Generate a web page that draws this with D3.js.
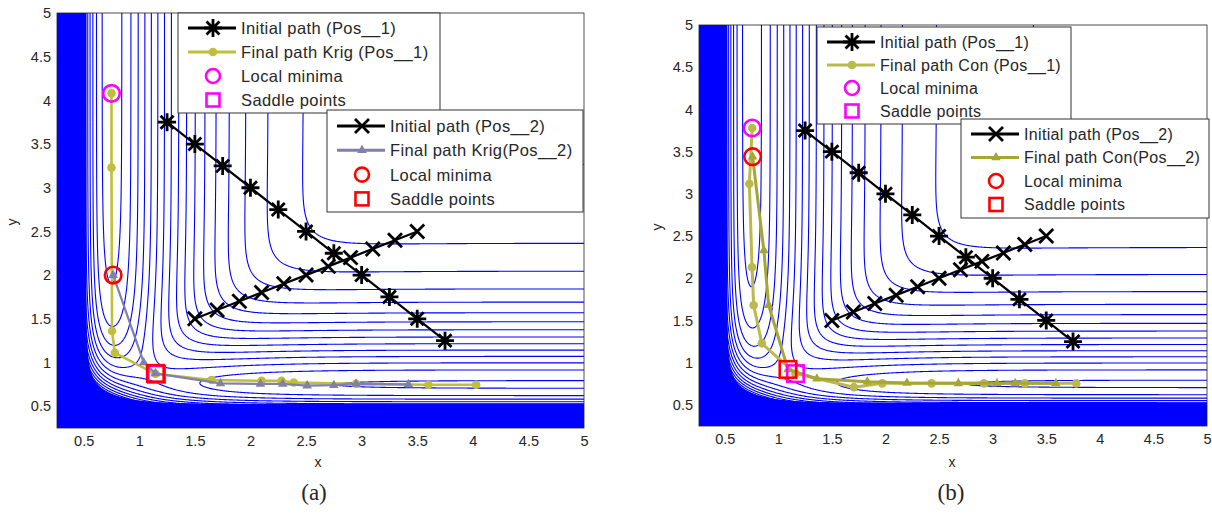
<!DOCTYPE html>
<meta charset="utf-8">
<style>
  body { margin: 0; background: #fff; }
  text { font-family: "Liberation Sans", Arial, sans-serif; fill: #262626; }
</style>
<body>
<script src="https://cdn.jsdelivr.net/npm/d3@7/dist/d3.min.js"></script>
<script>

// ticks, same for both panels
var xTicks = [0.5, 1, 1.5, 2, 2.5, 3, 3.5, 4, 4.5, 5];
var yTicks = [0.5, 1, 1.5, 2, 2.5, 3, 3.5, 4, 4.5, 5];

// straight initial paths (same in both panels)
var initPos1 = [[1.25,3.75],[1.5,3.5],[1.75,3.25],[2,3],[2.25,2.75],[2.5,2.5],[2.75,2.25],[3,2],[3.25,1.75],[3.5,1.5],[3.75,1.25]];
var initPos2 = [[1.5,1.5],[1.7,1.6],[1.9,1.7],[2.1,1.8],[2.3,1.9],[2.5,2.0],[2.7,2.1],[2.9,2.2],[3.1,2.3],[3.3,2.4],[3.5,2.5]];

// panel (a): Kriging final paths
var krigPos1 = [[0.75,4.08],[0.75,3.23],[0.755,1.36],[0.78,1.11],[1.145,0.87],[1.65,0.80],[2.1,0.79],[2.28,0.79],[2.39,0.77],[2.95,0.755],[3.6,0.745],[4.03,0.745]];
var krigPos2 = [[0.765,2.0],[1.04,1.0],[1.145,0.875],[1.73,0.76],[2.09,0.755],[2.29,0.755],[2.51,0.735],[2.75,0.74],[2.95,0.755],[3.42,0.75]];
var krigMin1 = [0.75, 4.08], krigSaddle1 = [1.155, 0.865];
var krigMin2 = [0.765, 2.0], krigSaddle2 = [1.145, 0.875];

// panel (b): Con final paths
var conPos1 = [[0.756,3.78],[0.73,3.12],[0.755,2.13],[0.77,1.68],[0.846,1.23],[1.16,0.87],[1.705,0.71],[1.97,0.755],[2.43,0.755],[2.92,0.755],[3.30,0.755],[3.78,0.755]];
var conPos2 = [[0.76,3.44],[0.865,2.33],[0.91,1.68],[1.09,0.92],[1.36,0.81],[1.83,0.775],[2.2,0.76],[2.68,0.755],[3.04,0.755],[3.21,0.755],[3.59,0.755]];
var conMin1 = [0.756, 3.78], conSaddle1 = [1.16, 0.87];
var conMin2 = [0.76, 3.44], conSaddle2 = [1.09, 0.92];

// LEPS surface behind both plots
var lepsA = 0.05, lepsB = 0.30, lepsC = 0.05;
var dAB = 4.746, dBC = 4.746, dAC = 3.445, r0 = 0.742, alpha = 1.942;
var levelStart = -4.389, levelStep = 0.255, levelTop = 8;

function lepsV(rab, rbc) {
  var rac = rab + rbc;
  function Q(d, r) { return d / 2 * (1.5 * Math.exp(-2 * alpha * (r - r0)) - Math.exp(-alpha * (r - r0))); }
  function J(d, r) { return d / 4 * (Math.exp(-2 * alpha * (r - r0)) - 6 * Math.exp(-alpha * (r - r0))); }
  var ja = J(dAB, rab) / (1 + lepsA), jb = J(dBC, rbc) / (1 + lepsB), jc = J(dAC, rac) / (1 + lepsC);
  return Q(dAB, rab) / (1 + lepsA) + Q(dBC, rbc) / (1 + lepsB) + Q(dAC, rac) / (1 + lepsC)
    - Math.sqrt(ja * ja + jb * jb + jc * jc - ja * jb - jb * jc - ja * jc);
}

var g0 = 0.2, gStep = 0.01, gn = 491;
var grid = new Float64Array(gn * gn);
for (var j = 0; j < gn; j++)
  for (var i = 0; i < gn; i++)
    grid[j * gn + i] = Math.min(lepsV(g0 + i * gStep, g0 + j * gStep), 50);

// where the lines pack closer than ~2px they merge into solid blue
var density = new Float64Array(gn * gn);
for (j = 1; j < gn - 1; j++)
  for (i = 1; i < gn - 1; i++) {
    var dx = (grid[j * gn + i + 1] - grid[j * gn + i - 1]) / (2 * gStep) / 111;
    var dy = (grid[(j + 1) * gn + i] - grid[(j - 1) * gn + i]) / (2 * gStep) / 87.4;
    density[j * gn + i] = Math.sqrt(dx * dx + dy * dy) / levelStep;
  }
for (i = 0; i < gn; i++) {
  density[i] = density[gn + i]; density[(gn - 1) * gn + i] = density[(gn - 2) * gn + i];
}
for (j = 0; j < gn; j++) {
  density[j * gn] = density[j * gn + 1]; density[j * gn + gn - 1] = density[j * gn + gn - 2];
}

var levels = d3.range(levelStart, levelTop, levelStep);
var contours = d3.contours().size([gn, gn]).thresholds(levels)(grid);
var solid = d3.contours().size([gn, gn]).thresholds([0.52])(density)[0];

var svg = d3.select("body").append("svg")
    .attr("width", 1212)
    .attr("height", 514);

// markers
function asterisk(r) {
  var a = r * 0.72;
  return "M0," + (-r) + "V" + r + "M" + (-r) + ",0H" + r +
         "M" + (-a) + "," + (-a) + "L" + a + "," + a + "M" + (-a) + "," + a + "L" + a + "," + (-a);
}
function xmark(r) {
  return "M" + (-r) + "," + (-r) + "L" + r + "," + r + "M" + (-r) + "," + r + "L" + r + "," + (-r);
}
function drawMarker(g, type, cx, cy, col, big) {
  if (type === "star") {
    g.append("path").attr("d", asterisk(9)).attr("transform", "translate(" + cx + "," + cy + ")")
      .attr("stroke", col).attr("stroke-width", 2.8).attr("fill", "none");
  } else if (type === "x") {
    g.append("path").attr("d", xmark(7)).attr("transform", "translate(" + cx + "," + cy + ")")
      .attr("stroke", col).attr("stroke-width", 2.8).attr("fill", "none");
  } else if (type === "dot") {
    g.append("circle").attr("cx", cx).attr("cy", cy).attr("r", 4.3).attr("fill", col);
  } else if (type === "tri") {
    g.append("path").attr("d", d3.symbol(d3.symbolTriangle, 40)()).attr("transform", "translate(" + cx + "," + cy + ")")
      .attr("fill", col);
  } else if (type === "ring") {
    g.append("circle").attr("cx", cx).attr("cy", cy).attr("r", big ? 8.3 : 7)
      .attr("fill", "none").attr("stroke", col).attr("stroke-width", 2.6);
  } else if (type === "square") {
    var s = big ? 16.5 : 13;
    g.append("rect").attr("x", cx - s / 2).attr("y", cy - s / 2).attr("width", s).attr("height", s)
      .attr("fill", "none").attr("stroke", col).attr("stroke-width", 2.6);
  }
}

function drawLegend(g, box, rows, fontSize, spacing) {
  g.append("rect").attr("x", box[0]).attr("y", box[1]).attr("width", box[2]).attr("height", box[3])
    .attr("fill", "#fff").attr("stroke", "#333").attr("stroke-width", 1);
  rows.forEach(function(r, k) {
    var cy = box[1] + box[4] + k * box[5];
    var x0 = box[0] + 10;
    if (r.line) {
      g.append("line").attr("x1", x0).attr("x2", x0 + 48).attr("y1", cy).attr("y2", cy)
        .attr("stroke", r.color).attr("stroke-width", r.width);
    }
    drawMarker(g, r.marker, x0 + 25, cy, r.color, false);
    g.append("text").attr("x", box[0] + 63).attr("y", cy).attr("dy", "0.36em")
      .style("font-size", fontSize + "px").style("letter-spacing", spacing + "px").text(r.label);
  });
}

function drawPanel(p) {
  var g = svg.append("g");
  var x = d3.scaleLinear().domain([0.26, 5]).range([p.left, p.right]);
  var y = d3.scaleLinear().domain([0.25, 5]).range([p.bottom, p.top]);

  g.append("clipPath").attr("id", "clip" + p.id)
    .append("rect").attr("x", p.left).attr("y", p.top)
    .attr("width", p.right - p.left).attr("height", p.bottom - p.top);

  var proj = d3.geoTransform({
    point: function(px, py) { this.stream.point(x(g0 + px * gStep), y(g0 + py * gStep)); }
  });
  var path = d3.geoPath(proj);

  var cg = g.append("g").attr("clip-path", "url(#clip" + p.id + ")");
  cg.selectAll("path.lev")
    .data(contours)
    .enter().append("path")
      .attr("class", "lev")
      .attr("d", path)
      .attr("fill", "none")
      .attr("stroke", "#0000ff")
      .attr("stroke-width", 1.1);
  cg.append("path").attr("d", path(solid)).attr("fill", "#0000ff");

  g.append("rect").attr("x", p.left).attr("y", p.top)
    .attr("width", p.right - p.left).attr("height", p.bottom - p.top)
    .attr("fill", "none").attr("stroke", "#222").attr("stroke-width", 0.8);

  // axes
  var ax = g.append("g")
      .attr("transform", "translate(0," + p.bottom + ")")
      .call(d3.axisBottom(x).tickValues(xTicks).tickSize(0).tickPadding(8).tickFormat(d3.format("~g")));
  ax.select(".domain").remove();
  ax.selectAll("text").style("font-size", "14.5px").attr("fill", "#262626");

  var ay = g.append("g")
      .attr("transform", "translate(" + p.left + ",0)")
      .call(d3.axisLeft(y).tickValues(yTicks).tickSize(0).tickPadding(6).tickFormat(d3.format("~g")));
  ay.select(".domain").remove();
  ay.selectAll("text").style("font-size", "14.5px").attr("fill", "#262626");

  g.append("text").attr("x", p.xLabel[0]).attr("y", p.xLabel[1]).attr("dy", "0.3em")
    .attr("text-anchor", "middle").style("font-size", "14px").text("x");
  g.append("text").attr("transform", "translate(" + p.yLabel[0] + "," + p.yLabel[1] + ") rotate(-90)")
    .attr("dy", "0.3em").attr("text-anchor", "middle").style("font-size", "14px").text("y");

  // paths
  var line = d3.line().x(function(d) { return x(d[0]); }).y(function(d) { return y(d[1]); });
  var pg = g.append("g").attr("clip-path", "url(#clip" + p.id + ")");

  function series(data, color, width, marker) {
    pg.append("path").attr("d", line(data)).attr("fill", "none")
      .attr("stroke", color).attr("stroke-width", width).attr("stroke-linejoin", "round");
    data.forEach(function(d) { drawMarker(pg, marker, x(d[0]), y(d[1]), color); });
  }

  series(initPos1, "#000", 2.2, "star");
  series(initPos2, "#000", 2.2, "x");
  series(p.fin1, p.col1, p.w1, "dot");
  series(p.fin2, p.col2, p.w2, "tri");

  drawMarker(pg, "ring", x(p.min1[0]), y(p.min1[1]), "#ff00ff", true);
  drawMarker(pg, "square", x(p.sad1[0]), y(p.sad1[1]), "#ff00ff", true);
  drawMarker(pg, "ring", x(p.min2[0]), y(p.min2[1]), "#ff0000", true);
  drawMarker(pg, "square", x(p.sad2[0]), y(p.sad2[1]), "#ff0000", true);

  drawLegend(g, p.leg1, [
    {line: true, marker: "star", color: "#000", width: 3, label: "Initial path (Pos__1)"},
    {line: true, marker: "dot", color: p.col1, width: 3, label: p.name1},
    {line: false, marker: "ring", color: "#ff00ff", label: "Local minima"},
    {line: false, marker: "square", color: "#ff00ff", label: "Saddle points"}
  ], p.font, p.spacing);
  drawLegend(g, p.leg2, [
    {line: true, marker: "x", color: "#000", width: 3, label: "Initial path (Pos__2)"},
    {line: true, marker: "tri", color: p.col2, width: 3, label: p.name2},
    {line: false, marker: "ring", color: "#ff0000", label: "Local minima"},
    {line: false, marker: "square", color: "#ff0000", label: "Saddle points"}
  ], p.font, p.spacing);

  svg.append("text").attr("x", p.caption[0]).attr("y", p.caption[1])
    .attr("text-anchor", "middle")
    .style("font-family", "'Liberation Serif', 'Times New Roman', serif")
    .style("font-size", "23px").attr("fill", "#000")
    .text(p.captionText);
}

drawPanel({
  id: "a", left: 57, right: 584, top: 13, bottom: 428,
  fin1: krigPos1, fin2: krigPos2, col1: "#bfbf3c", col2: "#8080a8", w1: 2.6, w2: 2.2,
  min1: krigMin1, sad1: krigSaddle1, min2: krigMin2, sad2: krigSaddle2,
  name1: "Final path Krig (Pos__1)", name2: "Final path Krig(Pos__2)",
  leg1: [178, 13, 262, 100, 15, 24], leg2: [327, 110, 256, 102, 16, 24.3], font: 16.5, spacing: 0.4,
  xLabel: [318, 463], yLabel: [13, 222], caption: [314, 500], captionText: "(a)"
});

drawPanel({
  id: "b", left: 699, right: 1207, top: 25, bottom: 426,
  fin1: conPos1, fin2: conPos2, col1: "#b9b94c", col2: "#a6a634", w1: 3, w2: 3,
  min1: conMin1, sad1: conSaddle1, min2: conMin2, sad2: conSaddle2,
  name1: "Final path Con (Pos__1)", name2: "Final path Con(Pos__2)",
  leg1: [817, 27, 254, 97, 15, 23], leg2: [961, 119, 248, 99, 15, 23.5], font: 16, spacing: 0.33,
  xLabel: [952, 463], yLabel: [658, 227], caption: [951, 500], captionText: "(b)"
});

</script>
</body>
